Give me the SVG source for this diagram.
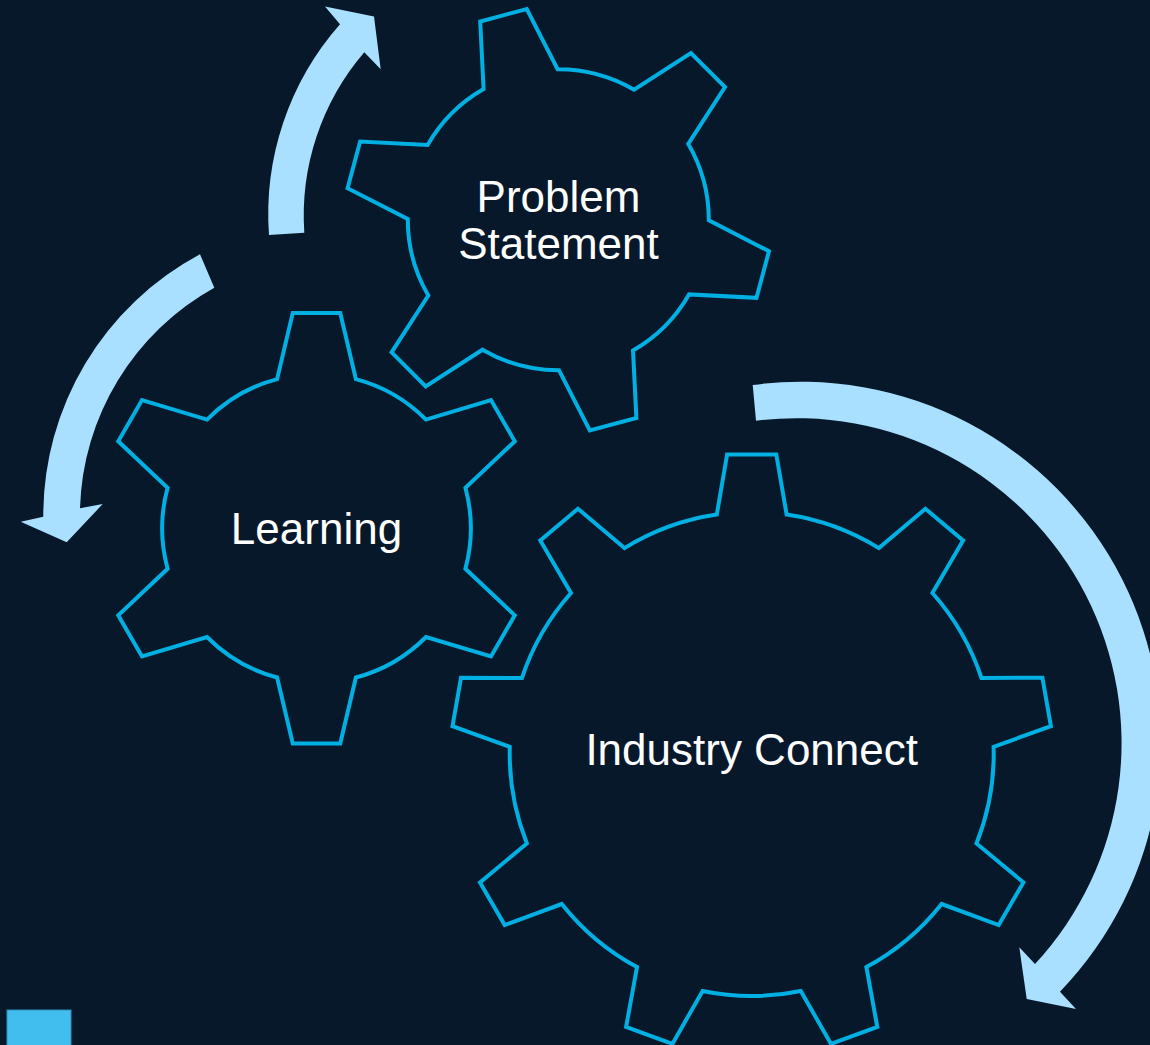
<svg xmlns="http://www.w3.org/2000/svg" width="1150" height="1045" viewBox="0 0 1150 1045">
<style>
.gear{fill:none;stroke:#00B0E3;stroke-width:4;stroke-linejoin:miter}
.lbl{font-family:"Liberation Sans",Arial,sans-serif;font-size:44px;fill:#FFFFFF;text-anchor:middle}
.arrow{fill:#A9DFFF}
</style>
<rect x="0" y="0" width="1150" height="1045" fill="#07182B"/>
<g id="connectors">
<path class="arrow" d="M 269,235 A 287 287 0 0 1 340,24.3 L 325,6.4 L 374,16.4 L 380.7,69.3 L 364.3,52.3 A 251 251 0 0 0 304.3,232.7 Z"/>
<path class="arrow" d="M 200,254.3 A 296 296 0 0 0 43.3,516.7 L 20.7,521.7 L 66.7,542.3 L 102.7,504 L 80,508.3 A 261 261 0 0 1 214.3,287.7 Z"/>
<path class="arrow" d="M 752.7,385 A 360 360 0 0 1 1060,991.7 L 1076,1009 L 1026.7,999 L 1019.3,947.3 L 1035,964 A 325 325 0 0 0 756,420.7 Z"/>
</g>
<g id="problem-statement">
<path class="gear" d="M 483.6,89.0 L 480.2,21.5 L 526.8,9.0 L 557.6,69.2 A 150.5 150.5 0 0 1 634.1,89.7 L 690.9,53.0 L 725.0,87.1 L 688.3,143.9 A 150.5 150.5 0 0 1 708.8,220.4 L 769.0,251.2 L 756.5,297.8 L 689.0,294.4 A 150.5 150.5 0 0 1 633.0,350.4 L 636.4,417.9 L 589.8,430.4 L 559.0,370.2 A 150.5 150.5 0 0 1 482.5,349.7 L 425.7,386.4 L 391.6,352.3 L 428.3,295.5 A 150.5 150.5 0 0 1 407.8,219.0 L 347.6,188.2 L 360.1,141.6 L 427.6,145.0 A 150.5 150.5 0 0 1 483.6,89.0 Z"/>
<text class="lbl" x="558.5" y="211.7">Problem</text>
<text class="lbl" x="558.5" y="259.3">Statement</text>
</g>
<g id="learning">
<path class="gear" d="M 277.1,379.1 L 292.75,313.1 L 340.25,313.1 L 355.9,379.1 A 154.3 154.3 0 0 1 426.0,419.6 L 491.0,400.1 L 514.75,441.3 L 465.4,487.8 A 154.3 154.3 0 0 1 465.4,568.8 L 514.75,615.3 L 491.0,656.5 L 426.0,637.0 A 154.3 154.3 0 0 1 355.9,677.5 L 340.25,743.5 L 292.75,743.5 L 277.1,677.5 A 154.3 154.3 0 0 1 207.0,637.0 L 142.0,656.5 L 118.25,615.3 L 167.6,568.8 A 154.3 154.3 0 0 1 167.6,487.8 L 118.25,441.3 L 142.0,400.1 L 207.0,419.6 A 154.3 154.3 0 0 1 277.1,379.1 Z"/>
<text class="lbl" x="316.5" y="544">Learning</text>
</g>
<g id="industry-connect">
<path class="gear" d="M 716.8,514.5 L 727.1,454.5 L 776.3,454.5 L 786.6,514.5 A 242 242 0 0 1 878.9,548.1 L 925.4,508.8 L 963.1,540.4 L 932.4,593.0 A 242 242 0 0 1 981.45,678.0 L 1042.4,677.7 L 1050.9,726.2 L 993.6,746.8 A 242 242 0 0 1 976.5,843.5 L 1023.4,882.4 L 998.7,925.1 L 941.6,904.0 A 242 242 0 0 1 866.4,967.1 L 877.3,1027.0 L 831.0,1043.9 L 800.8,991.0 A 242 242 0 0 1 702.6,991.0 L 672.4,1043.9 L 626.1,1027.0 L 637.0,967.1 A 242 242 0 0 1 561.8,904.0 L 504.7,925.1 L 480.0,882.4 L 526.9,843.5 A 242 242 0 0 1 509.8,746.8 L 452.5,726.2 L 461.0,677.7 L 521.95,678.0 A 242 242 0 0 1 571.0,593.0 L 540.3,540.4 L 578.0,508.8 L 624.5,548.1 A 242 242 0 0 1 716.8,514.5 Z"/>
<text class="lbl" x="751.7" y="765">Industry Connect</text>
</g>
<rect x="7" y="1010" width="64" height="40" fill="#41BEEE" stroke="#2C8FBD" stroke-width="1"/>
</svg>
